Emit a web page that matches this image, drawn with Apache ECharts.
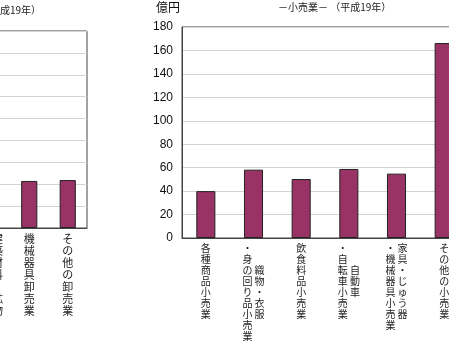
<!DOCTYPE html>
<html>
<head>
<meta charset="utf-8">
<script src="https://cdn.jsdelivr.net/npm/echarts@6/dist/echarts.min.js"></script>
<style>
  html, body { margin: 0; padding: 0; background: #fff; }
  #chart { width: 449px; height: 341px; }
</style>
</head>
<body>
<div id="chart"></div>
<script>
// 卸売業 (left chart, mostly cut off) - "\n" separates right / left text columns
var wholesaleCategories = ['各種商品卸売業', '繊維・衣服等卸売業', '飲食料品卸売業',
  '建築材料、鉱物・\n金属材料等卸売業', '機械器具卸売業', 'その他の卸売業'];
var wholesaleValues = [null, null, null, null, 215, 219];

// 小売業 (right chart)
var retailCategories = ['各種商品小売業', '織物・衣服\n・身の回り品小売業', '飲食料品小売業',
  '自動車\n・自転車小売業', '家具・じゅう器\n・機械器具小売業', 'その他の小売業'];
var retailValues = [40, 58.3, 50.3, 58.9, 54.9, 166.3];
var retailTicks = { min: 0, max: 180, interval: 20 };

// 縦書きラベル：各行に列ごとの文字を並べる（右列が先）
function verticalLabel(name) {
  var cols = name.split('\n');
  var maxLen = Math.max.apply(null, cols.map(function (c) { return c.length; }));
  var rows = [];
  for (var i = 0; i < maxLen; i++) {
    var chars = cols.slice().reverse().map(function (c) {
      var off = Math.floor((maxLen - c.length) / 2);
      var ch = c[i - off];
      return (i >= off && ch) ? ch : '　';
    });
    rows.push(chars.join(' '));
  }
  return rows.join('\n');
}

var myChart = echarts.init(document.getElementById('chart'));
var barStyle = { color: '#993366', borderColor: '#222', borderWidth: 1 };

var option = {
  animation: false,
  title: [
    {
      text: '－卸売業－ （平成19年）', right: 408, top: 5, padding: 0,
      textStyle: { fontSize: 10, fontWeight: 'normal', color: '#222', fontFamily: 'Noto Sans CJK JP' }
    },
    {
      text: '－小売業－ （平成19年）', left: 278, top: 2, padding: 0,
      textStyle: { fontSize: 10, fontWeight: 'normal', color: '#222', fontFamily: 'Noto Sans CJK JP' }
    },
    {
      text: '億円', left: 156, top: 1, padding: 0,
      textStyle: { fontSize: 12, fontWeight: 'normal', color: '#111', fontFamily: 'Noto Sans CJK JP' }
    }
  ],
  grid: [
    { left: -144, right: 362, top: 31, bottom: 113, show: true, borderColor: '#444', borderWidth: 1, outerBoundsMode: 'none' },
    { left: 182, right: -19, top: 27, bottom: 103, show: true, borderColor: '#444', borderWidth: 1, outerBoundsMode: 'none' }
  ],
  xAxis: [
    {
      type: 'category', gridIndex: 0, data: wholesaleCategories,
      axisLine: { lineStyle: { color: '#444' } },
      axisTick: { inside: true, length: 3, lineStyle: { color: '#444' } },
      axisLabel: {
        interval: 0, margin: 5, formatter: verticalLabel, verticalAlign: 'top',
        fontSize: 11, lineHeight: 12, color: '#222', fontFamily: 'Noto Sans CJK JP'
      }
    },
    {
      type: 'category', gridIndex: 1, data: retailCategories,
      axisLine: { lineStyle: { color: '#444' } },
      axisTick: { inside: true, length: 3, lineStyle: { color: '#444' } },
      axisLabel: {
        interval: 0, margin: 5, formatter: verticalLabel, verticalAlign: 'top',
        fontSize: 10, lineHeight: 11, color: '#222', fontFamily: 'Noto Sans CJK JP'
      }
    }
  ],
  yAxis: [
    {
      type: 'value', gridIndex: 0, min: 0, max: 900, interval: 100,
      axisLine: { show: true, lineStyle: { color: '#444' } },
      axisTick: { show: false },
      axisLabel: { show: false },
      splitLine: { lineStyle: { color: '#d4d4d4' } }
    },
    {
      type: 'value', gridIndex: 1,
      min: retailTicks.min, max: retailTicks.max, interval: retailTicks.interval,
      axisLine: { show: true, lineStyle: { color: '#444' } },
      axisTick: { show: false },
      axisLabel: { margin: 9, fontSize: 12, color: '#111', fontFamily: 'Liberation Sans' },
      splitLine: { lineStyle: { color: '#d4d4d4' } }
    }
  ],
  series: [
    { type: 'bar', xAxisIndex: 0, yAxisIndex: 0, barWidth: '42%', itemStyle: barStyle, data: wholesaleValues },
    { type: 'bar', xAxisIndex: 1, yAxisIndex: 1, barWidth: '40%', itemStyle: barStyle, data: retailValues }
  ]
};

myChart.setOption(option);
</script>
</body>
</html>
